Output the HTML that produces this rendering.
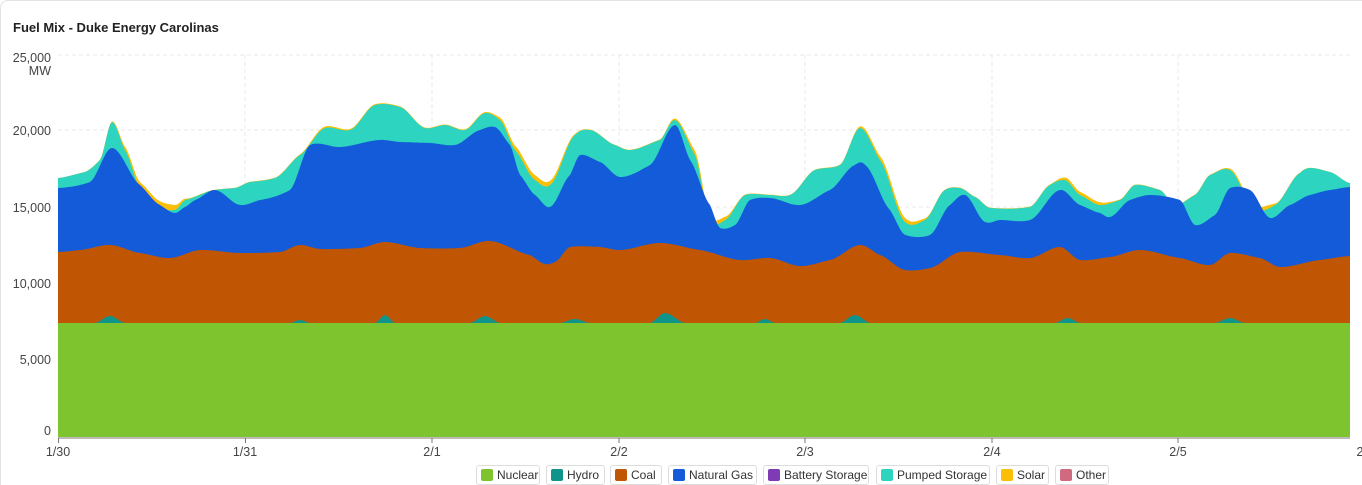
<!DOCTYPE html>
<html><head><meta charset="utf-8"><style>
body{margin:0;background:#fff;font-family:"Liberation Sans",sans-serif;}
#wrap{position:relative;width:1362px;height:485px;overflow:hidden;}
.card{position:absolute;left:0;top:0;width:1380px;height:500px;border:1px solid #e3e3e3;border-radius:8px;box-sizing:border-box;}
.title{position:absolute;left:13px;top:20px;font-size:13px;font-weight:bold;color:#222;}
.lg{position:absolute;top:465px;height:20px;border:1px solid #ddd;border-radius:3px;box-sizing:border-box;font-size:12px;color:#333;line-height:18px;padding-left:20px;}
.lg i{position:absolute;left:4px;top:3px;width:12px;height:12px;border-radius:2px;}
</style></head><body><div id="wrap">
<div class="card"></div>
<div class="title">Fuel Mix - Duke Energy Carolinas</div>
<svg id="s" width="1362" height="485" style="position:absolute;left:0;top:0">
<g stroke="#e8e8e8" stroke-dasharray="4,3" fill="none">
<line x1="58" x2="1350" y1="55" y2="55"/><line x1="58" x2="1350" y1="130" y2="130"/><line x1="58" x2="1350" y1="207" y2="207"/><line x1="58" x2="1350" y1="283" y2="283"/><line x1="58" x2="1350" y1="360" y2="360"/>
<line x1="245" x2="245" y1="55" y2="437"/><line x1="432" x2="432" y1="55" y2="437"/><line x1="619" x2="619" y1="55" y2="437"/><line x1="805" x2="805" y1="55" y2="437"/><line x1="992" x2="992" y1="55" y2="437"/><line x1="1178" x2="1178" y1="55" y2="437"/>
</g>
<g id="areas"></g>
<line x1="58" x2="1350" y1="438" y2="438" stroke="#777" stroke-width="1"/>
<g stroke="#777"><line x1="58.5" x2="58.5" y1="438" y2="443"/><line x1="245.5" x2="245.5" y1="438" y2="443"/><line x1="432" x2="432" y1="438" y2="443"/><line x1="619" x2="619" y1="438" y2="443"/><line x1="805" x2="805" y1="438" y2="443"/><line x1="992" x2="992" y1="438" y2="443"/><line x1="1178" x2="1178" y1="438" y2="443"/></g>
<g font-size="12.5" fill="#444" text-anchor="end" font-family="Liberation Sans,sans-serif">
<text x="51" y="62">25,000</text><text x="51" y="75">MW</text><text x="51" y="135">20,000</text><text x="51" y="212">15,000</text><text x="51" y="288">10,000</text><text x="51" y="364">5,000</text><text x="51" y="435">0</text>
</g>
<g font-size="12.5" fill="#444" text-anchor="middle" font-family="Liberation Sans,sans-serif">
<text x="58" y="456">1/30</text><text x="245" y="456">1/31</text><text x="432" y="456">2/1</text><text x="619" y="456">2/2</text><text x="805" y="456">2/3</text><text x="992" y="456">2/4</text><text x="1178" y="456">2/5</text><text x="1360" y="456">2</text>
</g>
</svg>
<div class="lg" style="left:476px;width:64px"><i style="background:#7dc42f"></i>Nuclear</div>
<div class="lg" style="left:546px;width:59px"><i style="background:#0e9488"></i>Hydro</div>
<div class="lg" style="left:610px;width:52px"><i style="background:#c05504"></i>Coal</div>
<div class="lg" style="left:668px;width:89px"><i style="background:#135bd9"></i>Natural Gas</div>
<div class="lg" style="left:763px;width:106px"><i style="background:#7e3bb5"></i>Battery Storage</div>
<div class="lg" style="left:876px;width:114px"><i style="background:#2dd4bf"></i>Pumped Storage</div>
<div class="lg" style="left:996px;width:53px"><i style="background:#fbbf08"></i>Solar</div>
<div class="lg" style="left:1055px;width:54px"><i style="background:#cf6a7f"></i>Other</div>
</div>
<script>
function interp(pts){var o=[];for(var x=58;x<=1350;x+=2){var i=0;while(i<pts.length-2&&pts[i+1][0]<x)i++;var p0=pts[Math.max(0,i-1)],a=pts[i],b=pts[i+1],p3=pts[Math.min(pts.length-1,i+2)];var t=(x-a[0])/(b[0]-a[0]);t=Math.max(0,Math.min(1,t));var t2=t*t,t3=t2*t;
var m1=(b[1]-p0[1])/2*0.6,m2=(p3[1]-a[1])/2*0.6;
var y=(2*t3-3*t2+1)*a[1]+(t3-2*t2+t)*m1+(-2*t3+3*t2)*b[1]+(t3-t2)*m2;o.push([x,y]);}return o;}
var tot=[[58,178],[85,172],[100,160],[112,122],[125,150],[140,188],[160,208],[175,210],[185,200],[215,190],[235,188],[250,182],[275,178],[300,155],[325,128],[350,130],[375,105],[400,107],[425,128],[445,125],[465,130],[485,113],[500,120],[515,150],[535,180],[550,185],[575,135],[590,130],[615,145],[630,150],[660,140],[675,120],[695,155],[710,222],[725,220],[745,195],[770,195],[790,195],[815,170],[840,165],[860,128],[880,160],[905,222],[925,220],[945,190],[960,188],[975,197],[990,208],[1030,207],[1050,185],[1065,180],[1080,195],[1100,205],[1120,200],[1135,185],[1160,190],[1175,205],[1195,195],[1210,175],[1230,170],[1255,210],[1275,205],[1300,173],[1310,168],[1330,172],[1350,183]];
var gas=[[58,188],[90,182],[112,148],[140,185],[160,205],[175,213],[185,207],[195,200],[215,190],[240,205],[260,200],[290,190],[310,145],[340,147],[380,140],[400,142],[430,143],[455,145],[480,130],[495,127],[510,145],[520,175],[535,195],[550,207],[570,175],[580,155],[600,162],[620,177],[650,165],[675,125],[690,160],[710,205],[720,228],[735,225],[750,200],[770,198],[800,205],[830,190],[855,165],[865,165],[890,210],[905,235],[930,235],[950,205],[965,195],[985,222],[1000,220],[1030,220],[1060,190],[1080,205],[1100,213],[1110,217],[1130,200],[1150,195],[1180,200],[1195,225],[1215,215],[1230,188],[1250,190],[1270,218],[1290,205],[1310,195],[1330,190],[1350,187]];
var coal=[[58,252],[80,250],[110,245],[140,253],[170,258],[200,250],[240,253],[280,252],[300,245],[320,249],[360,248],[385,242],[420,248],[460,248],[490,241],[530,255],[545,264],[555,262],[570,247],[600,247],[620,250],[660,243],[700,250],[740,260],[770,258],[800,266],[830,260],[860,245],[880,255],[905,270],[930,268],[960,252],[1000,255],[1030,258],[1060,247],[1080,260],[1110,257],[1140,250],[1180,258],[1210,265],[1230,253],[1260,258],[1280,267],[1320,260],[1350,256]];
var hyd=[[58,323],[95,323],[110,316],[125,323],[290,323],[300,320],[310,323],[375,323],[385,315],[395,323],[470,323],[485,316],[500,323],[560,323],[575,319],[590,323],[650,323],[665,313],[685,323],[755,323],[765,319],[775,323],[840,323],[855,315],[870,323],[1055,323],[1068,318],[1080,323],[1215,323],[1230,318],[1245,323],[1350,323]];
var sol=[[58,0],[110,0.5],[130,4],[150,7],[170,6],[190,0.5],[290,0.5],[320,1.5],[350,1],[420,0.5],[490,1],[510,4],[530,5],[555,4],[580,0.5],[660,0.5],[680,2],[700,5],[720,4],[740,0.5],[850,0.5],[870,3],[895,5],[915,3],[935,0.5],[1050,0.5],[1070,3],[1095,3],[1120,0.5],[1220,0.5],[1245,3],[1265,4],[1280,0.5],[1350,0]];
function area(top,col){var t=top[0].length?top:interp(top);if(!top[0].length)t=top;var d="M"+t.map(p=>p[0]+","+p[1].toFixed(1)).join("L");d+="L1350,437L58,437Z";return '<path d="'+d+'" fill="'+col+'"/>';}
var st=interp(tot),ss=interp(sol);var solTop=st.map((p,i)=>[p[0],p[1]-Math.max(0,ss[i][1])]);
var g="";
g+=area(solTop,"#fbbf08");
g+=area(st,"#2dd4bf");
g+=area(interp(gas),"#135bd9");
g+=area(interp(coal),"#c05504");
g+=area(interp(hyd),"#0e9488");
g+='<rect x="58" y="323" width="1292" height="114" fill="#7dc42f"/>';
document.getElementById("areas").innerHTML=g;
</script>
</body></html>
